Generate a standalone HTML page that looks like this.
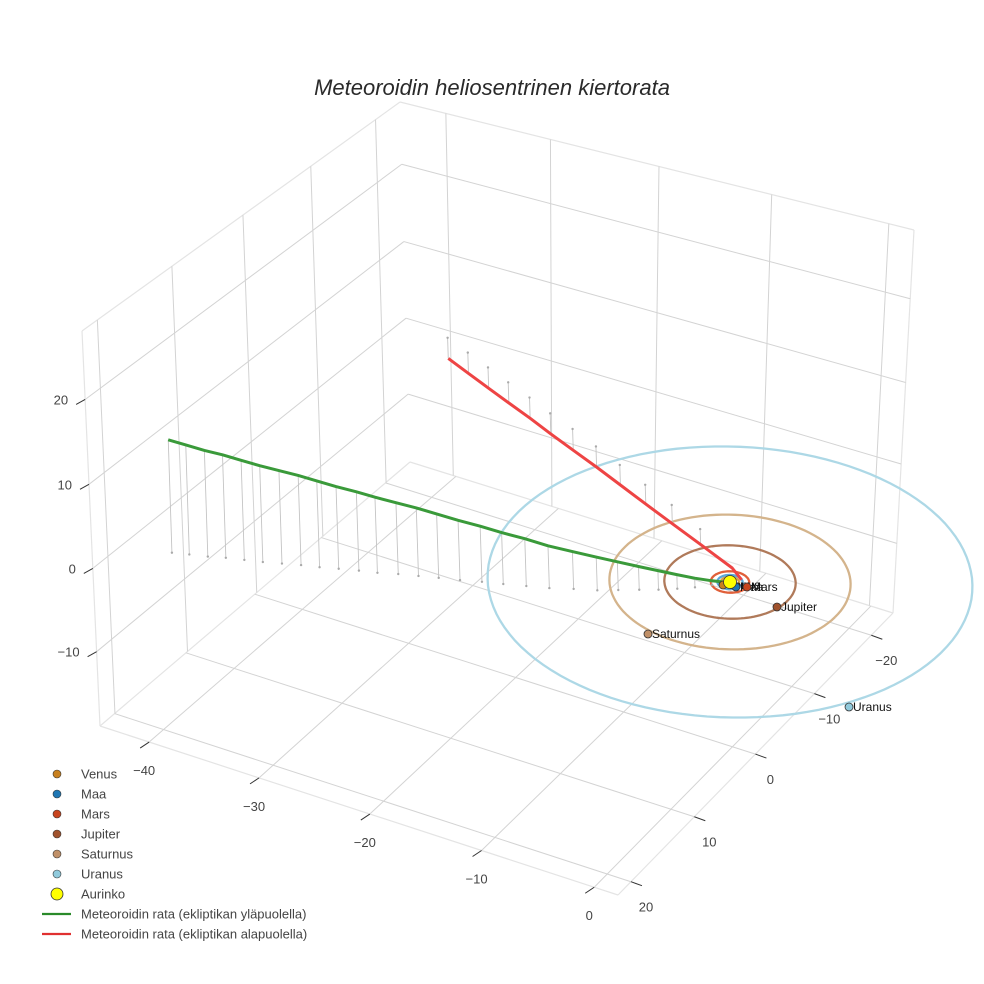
<!DOCTYPE html>
<html><head><meta charset="utf-8">
<style>
html,body{margin:0;padding:0;background:#fff;}
svg{display:block;font-family:"Liberation Sans",sans-serif;}
</style></head>
<body>
<svg id="chart" width="984" height="984" viewBox="0 0 984 984" xmlns="http://www.w3.org/2000/svg">
  <text x="492" y="95" text-anchor="middle" font-size="22" font-style="italic" fill="#2a2a2a">Meteoroidin heliosentrinen kiertorata</text>
  <g id="grid"></g>
  <g id="ticks"></g>
  <g id="orbits"></g>
  <g id="traj"></g>
  <g id="planets"></g>
  <g id="legend"></g>
</svg>
<script>
// ---- data ----
const xTicks = [-40, -30, -20, -10, 0];
const yTicks = [-20, -10, 0, 10, 20];
const zTicks = [-10, 0, 10, 20];
const xRange = [-44.5, 2.1];
const yRange = [-23.9, 22];
const zRange = [-19, 28];

const planetNames = ["Venus", "Maa", "Mars", "Jupiter", "Saturnus", "Uranus"];
const orbitRadii = [0.72, 1.0, 1.52, 5.2, 9.55, 19.2];
const planetX = [-0.26, 0.75, 1.5, 4.92, -1.93, 16.75];
const planetY = [0.66, 0.37, -0.08, 1.15, 9.8, 10.52];
const planetColors = ["#c8801e", "#1f77b4", "#c8451e", "#a0522d", "#c09068", "#90cadc"];
const orbitColors = ["#d9a24a", "#5aa8d8", "#e0603a", "#b07a5a", "#d4b48c", "#add8e6"];

const greenX = [-39.8,-38.5,-37.1,-35.8,-34.4,-33.0,-31.6,-30.2,-28.8,-27.4,-25.9,-24.5,-23.0,-21.5,-20.0,-18.4,-16.8,-15.2,-13.5,-11.8,-10.1,-8.4,-7.0,-5.6,-4.3,-3.1,-2.0,-1.0,-0.3,0];
const greenY = [19.4,18.9,18.4,17.8,17.3,16.8,16.2,15.6,15.1,14.5,13.9,13.4,12.7,12.1,11.5,10.9,10.2,9.6,8.9,8.2,7.3,6.5,5.6,4.7,3.9,3.0,2.1,1.1,0.4,0];
const greenZ = [13.6,13.2,12.8,12.4,12.0,11.6,11.2,10.8,10.4,9.9,9.5,9.1,8.6,8.2,7.7,7.2,6.7,6.2,5.7,5.1,4.5,4.0,3.4,2.8,2.3,1.7,1.1,0.5,0.15,0];

const redX = [-36.1,-33.7,-31.3,-28.9,-26.4,-23.9,-21.3,-18.5,-15.6,-12.5,-9.3,-5.7,-1.4,0.6];
const redY = [-18.5,-17.5,-16.5,-15.5,-14.5,-13.4,-12.4,-11.2,-9.9,-8.5,-7.1,-5.3,-2.8,-0.8];
const redZ = [-2.49,-2.5,-2.51,-2.49,-2.5,-2.48,-2.57,-2.49,-2.41,-2.33,-2.25,-1.87,-0.97,-0.05];

// ---- projection for data (local affine around the sun) ----
const O = [730, 582];
function px(x,y,z){ return O[0] + 11*x - 6.2*y - 0.27*z; }
function py(x,y,z){ return O[1] + 3.675*x + 6.03*y - 8.3*z; }

// ---- perspective planes for the box ----
function quad(p0,p1,p2,p3){
  const [x0,y0]=p0,[x1,y1]=p1,[x2,y2]=p2,[x3,y3]=p3;
  const dx1=x1-x2,dx2=x3-x2,dx3=x0-x1+x2-x3,dy1=y1-y2,dy2=y3-y2,dy3=y0-y1+y2-y3;
  const den=dx1*dy2-dx2*dy1;
  const g=(dx3*dy2-dx2*dy3)/den,h=(dx1*dy3-dx3*dy1)/den;
  const a=x1-x0+g*x1,b=x3-x0+h*x3,d=y1-y0+g*y1,e=y3-y0+h*y3;
  return (u,v)=>{const w=g*u+h*v+1;return [(a*u+b*v+x0)/w,(d*u+e*v+y0)/w];};
}
const L=[100,726],F=[618,895],R=[893,613],B=[410,462],TL=[82,331],TB=[400,102],TR=[914,230];
const floorQ = quad(L,F,R,B);
const leftQ = quad(L,B,TB,TL);
const rightQ = quad(B,R,TR,TB);
const fx = x => (x-xRange[0])/(xRange[1]-xRange[0]);
const fy = y => (yRange[1]-y)/(yRange[1]-yRange[0]);
const fz = z => (z-zRange[0])/(zRange[1]-zRange[0]);

const NS="http://www.w3.org/2000/svg";
function mk(tag, attrs, parent){
  const el=document.createElementNS(NS,tag);
  for(const k in attrs) el.setAttribute(k,attrs[k]);
  parent.appendChild(el); return el;
}
function seg(p,q,col,w,parent){
  return mk("line",{x1:p[0],y1:p[1],x2:q[0],y2:q[1],stroke:col,"stroke-width":w},parent);
}
const grid=document.getElementById("grid");
const GC="#d3d3d3";
[[L,F],[F,R],[L,TL],[TL,TB],[TB,TR],[TR,R],[L,B],[B,R]].forEach(([p,q])=>{
  const l=seg(p,q,"#e4e4e4",1.2,grid);
  
  
});
xTicks.forEach(t=>{
  const a=floorQ(fx(t),0),b=floorQ(fx(t),1);
  const l1=seg(a,b,GC,1,grid);
  
  
  const c=rightQ(fx(t),0),d=rightQ(fx(t),1);
  const l2=seg(c,d,GC,1,grid);
  
  
});
yTicks.forEach(t=>{
  const a=floorQ(0,fy(t)),b=floorQ(1,fy(t));
  const l1=seg(a,b,GC,1,grid);
  
  
  const c=leftQ(fy(t),0),d=leftQ(fy(t),1);
  const l2=seg(c,d,GC,1,grid);
  
  
});
zTicks.concat([30]).forEach(t=>{
  if(t>zRange[1]) return;
  const a=leftQ(0,fz(t)),b=leftQ(1,fz(t)),c=rightQ(1,fz(t));
  const l1=seg(a,b,GC,1,grid);
  
  
  const l2=seg(b,c,GC,1,grid);
  
  
});
const tk=document.getElementById("ticks");
function lbl(txt,x,y,anchor,name){
  const t=mk("text",{x:x,y:y,"text-anchor":anchor,"font-size":13,fill:"#444"},tk);
  t.textContent=txt;
  
  
}
function fmt(v){return v<0?"\u2212"+Math.abs(v):String(v);}
xTicks.forEach(t=>{
  const p=floorQ(fx(t),0);
  const l=seg(p,[p[0]-9,p[1]+6],"#333",1,tk);
  
  
  lbl(fmt(t),p[0]-5,p[1]+33,"middle","x-tick-label");
});
yTicks.forEach(t=>{
  const p=floorQ(1,fy(t));
  const l=seg(p,[p[0]+11,p[1]+4],"#333",1,tk);
  
  
  lbl(fmt(t),p[0]+15,p[1]+30,"middle","y-tick-label");
});
zTicks.forEach(t=>{
  const p=leftQ(0,fz(t));
  const l=seg(p,[p[0]-9,p[1]+5],"#333",1,tk);
  
  
  lbl(fmt(t),p[0]-17,p[1]+5,"end","z-tick-label");
});

const og=document.getElementById("orbits");
orbitRadii.forEach((r,i)=>{
  let d="";
  for(let k=0;k<=120;k++){
    const a=k/120*2*Math.PI;
    const x=r*Math.cos(a),y=r*Math.sin(a);
    d+=(k?"L":"M")+px(x,y,0).toFixed(1)+","+py(x,y,0).toFixed(1);
  }
  const p=mk("path",{d:d,fill:"none",stroke:orbitColors[i],"stroke-width":2.3},og);
  
  
});

const tg=document.getElementById("traj");
function traj(X,Y,Z,col,name){
  for(let i=0;i<X.length-2;i++){
    const a=[px(X[i],Y[i],Z[i]),py(X[i],Y[i],Z[i])];
    const b=[px(X[i],Y[i],0),py(X[i],Y[i],0)];
    const l=seg(a,b,"#c4c4c4",0.9,tg);
    
    
    const c=mk("circle",{cx:b[0],cy:b[1],r:1.2,fill:"#aaa"},tg);
    
    
  }
  let d="";
  X.forEach((x,i)=>{d+=(i?"L":"M")+px(x,Y[i],Z[i]).toFixed(1)+","+py(x,Y[i],Z[i]).toFixed(1);});
  const p=mk("path",{d:d,fill:"none",stroke:col,"stroke-width":3,"stroke-linejoin":"round"},tg);
  
  
}
traj(greenX,greenY,greenZ,"#3a9a3a","trajectory-above");
traj(redX,redY,redZ,"#ee4444","trajectory-below");

const pg=document.getElementById("planets");
planetNames.forEach((n,i)=>{
  const x=px(planetX[i],planetY[i],0),y=py(planetX[i],planetY[i],0);
  const t=mk("text",{x:x+4,y:y+4,"font-size":12,fill:"#111"},pg);
  t.textContent=n;
  
  
  const c=mk("circle",{cx:x,cy:y,r:4,fill:planetColors[i],stroke:"#333","stroke-width":0.8},pg);
  
  
});
const sun=mk("circle",{cx:px(0,0,0),cy:py(0,0,0),r:6.5,fill:"#ffff00",stroke:"#333","stroke-width":0.8},pg);



const lg=document.getElementById("legend");
const legendLabels = ["Venus","Maa","Mars","Jupiter","Saturnus","Uranus","Aurinko","Meteoroidin rata (ekliptikan yläpuolella)","Meteoroidin rata (ekliptikan alapuolella)"];
legendLabels.forEach((s,i)=>{
  const y=774+i*20;
  const g=mk("g",{},lg);
  
  
  if(i<6){
    mk("circle",{cx:57,cy:y,r:4,fill:planetColors[i],stroke:"#333","stroke-width":0.6},g);
  } else if(i===6){
    mk("circle",{cx:57,cy:y,r:6,fill:"#ffff00",stroke:"#333","stroke-width":0.8},g);
  } else {
    seg([42,y],[71,y],i===7?"#2a8a2a":"#e03030",2.2,g);
  }
  const t=mk("text",{x:81,y:y+4.5,"font-size":13,fill:"#444"},g);
  t.textContent=s;
});
</script>
</body></html>
